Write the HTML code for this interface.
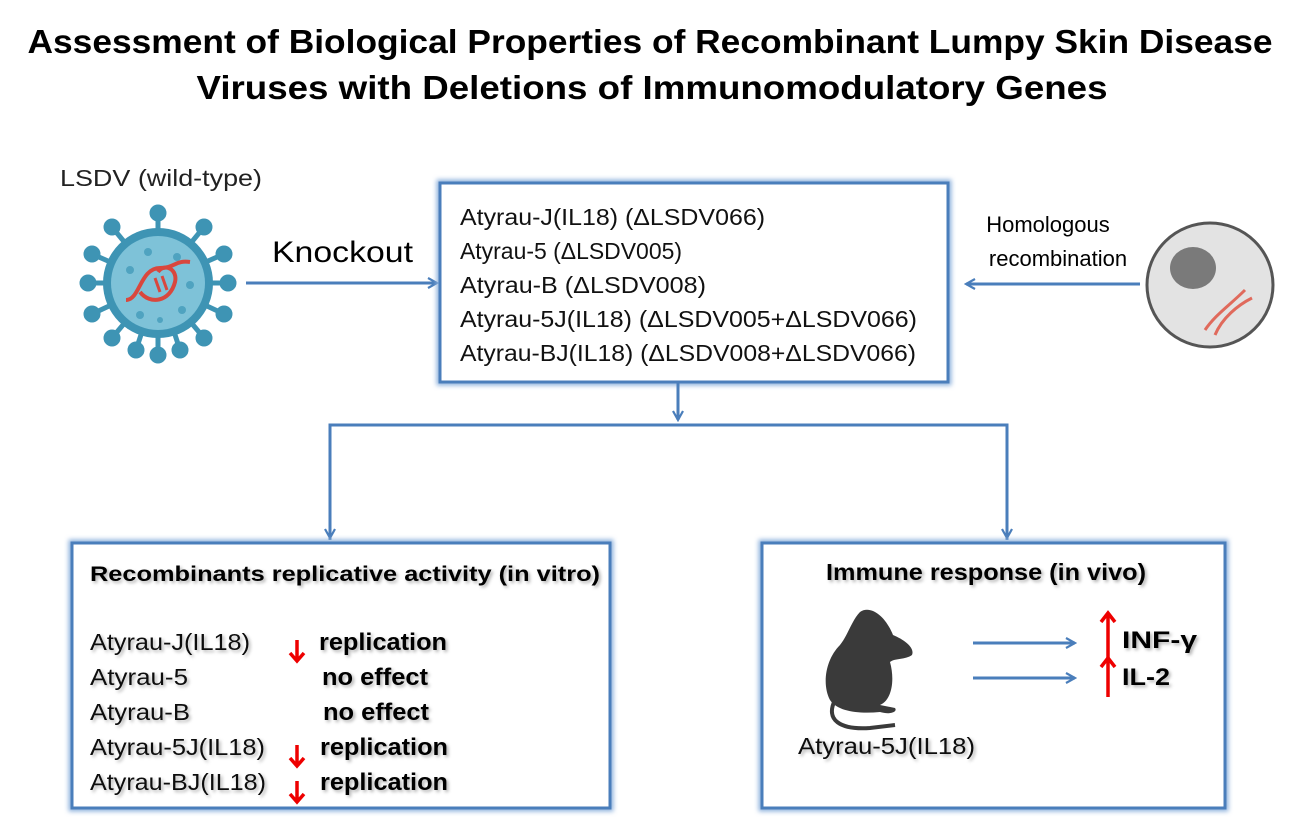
<!DOCTYPE html>
<html><head><meta charset="utf-8"><style>
html,body{margin:0;padding:0;background:#fff;}
svg{display:block;font-family:"Liberation Sans",sans-serif;}
</style></head><body>
<svg width="1307" height="836" viewBox="0 0 1307 836" xmlns="http://www.w3.org/2000/svg">
<defs>
<filter id="glow" x="-10%" y="-10%" width="120%" height="120%"><feGaussianBlur stdDeviation="2.5"/></filter>
<filter id="sh" x="-10%" y="-30%" width="120%" height="160%"><feDropShadow dx="2" dy="2" stdDeviation="1.5" flood-color="#000" flood-opacity="0.3"/></filter>
<marker id="ab" viewBox="0 0 12 12" refX="10" refY="6" markerWidth="12" markerHeight="12" markerUnits="userSpaceOnUse" orient="auto"><path d="M1,1 L10,6 L1,11" fill="none" stroke="#4a7ebb" stroke-width="2.2"/></marker>
</defs>
<text x="650" y="53" text-anchor="middle" font-size="33" font-weight="bold" textLength="1245" lengthAdjust="spacingAndGlyphs">Assessment of Biological Properties of Recombinant Lumpy Skin Disease</text>
<text x="652" y="99" text-anchor="middle" font-size="33" font-weight="bold" textLength="911" lengthAdjust="spacingAndGlyphs">Viruses with Deletions of Immunomodulatory Genes</text>

<text x="60" y="186" font-size="23" fill="#222" textLength="202" lengthAdjust="spacingAndGlyphs">LSDV (wild-type)</text>
<!-- virus -->
<g stroke="#3e94b4" stroke-width="5" fill="#3e94b4">
<line x1="158" y1="283" x2="158" y2="213"/><circle cx="158" cy="213" r="6"/>
<line x1="158" y1="283" x2="158" y2="355"/><circle cx="158" cy="355" r="6"/>
<line x1="158" y1="283" x2="88" y2="283"/><circle cx="88" cy="283" r="6"/>
<line x1="158" y1="283" x2="228" y2="283"/><circle cx="228" cy="283" r="6"/>
<line x1="158" y1="283" x2="112" y2="227"/><circle cx="112" cy="227" r="6"/>
<line x1="158" y1="283" x2="204" y2="227"/><circle cx="204" cy="227" r="6"/>
<line x1="158" y1="283" x2="112" y2="338"/><circle cx="112" cy="338" r="6"/>
<line x1="158" y1="283" x2="204" y2="338"/><circle cx="204" cy="338" r="6"/>
<line x1="158" y1="283" x2="92" y2="254"/><circle cx="92" cy="254" r="6"/>
<line x1="158" y1="283" x2="224" y2="254"/><circle cx="224" cy="254" r="6"/>
<line x1="158" y1="283" x2="92" y2="314"/><circle cx="92" cy="314" r="6"/>
<line x1="158" y1="283" x2="224" y2="314"/><circle cx="224" cy="314" r="6"/>
<line x1="158" y1="283" x2="136" y2="350"/><circle cx="136" cy="350" r="6"/>
<line x1="158" y1="283" x2="180" y2="350"/><circle cx="180" cy="350" r="6"/>
</g>
<circle cx="158" cy="283" r="55" fill="#3e94b4"/>
<circle cx="158" cy="283" r="47" fill="#7ec2d8"/>
<g fill="#4fa3c0"><circle cx="148" cy="252" r="4"/><circle cx="177" cy="257" r="4"/><circle cx="130" cy="270" r="4"/><circle cx="190" cy="285" r="4"/><circle cx="140" cy="315" r="4"/><circle cx="182" cy="310" r="4"/><circle cx="160" cy="320" r="3"/></g>
<path d="M126,300 C140,300 140,268 160,268 C175,268 175,260 190,262" fill="none" stroke="#d9473d" stroke-width="4"/>
<path d="M140,292 C150,305 170,302 175,282 C178,270 165,262 158,272" fill="none" stroke="#d9473d" stroke-width="4"/>
<line x1="155" y1="278" x2="160" y2="292" stroke="#d9473d" stroke-width="3"/><line x1="162" y1="276" x2="167" y2="290" stroke="#d9473d" stroke-width="3"/>

<!-- knockout -->
<text x="272" y="262" font-size="30" textLength="141" lengthAdjust="spacingAndGlyphs">Knockout</text>
<line x1="246" y1="283" x2="437" y2="283" stroke="#4a7ebb" stroke-width="3" marker-end="url(#ab)"/>

<!-- top box -->
<rect x="440" y="183" width="508" height="199" fill="none" stroke="#8fb2dd" stroke-width="7" filter="url(#glow)"/>
<rect x="440" y="183" width="508" height="199" fill="#fff" stroke="#4a7ebb" stroke-width="3"/>
<g font-size="23" fill="#111" lengthAdjust="spacingAndGlyphs">
<text x="460" y="225" textLength="305" lengthAdjust="spacingAndGlyphs">Atyrau-J(IL18) (ΔLSDV066)</text>
<text x="460" y="259" textLength="222" lengthAdjust="spacingAndGlyphs">Atyrau-5 (ΔLSDV005)</text>
<text x="460" y="293" textLength="246" lengthAdjust="spacingAndGlyphs">Atyrau-B (ΔLSDV008)</text>
<text x="460" y="327" textLength="457" lengthAdjust="spacingAndGlyphs">Atyrau-5J(IL18) (ΔLSDV005+ΔLSDV066)</text>
<text x="460" y="361" textLength="456" lengthAdjust="spacingAndGlyphs">Atyrau-BJ(IL18) (ΔLSDV008+ΔLSDV066)</text>
</g>

<!-- homologous -->
<text x="1048" y="232" font-size="22" text-anchor="middle">Homologous</text>
<text x="1058" y="266" font-size="22" text-anchor="middle">recombination</text>
<line x1="1140" y1="284" x2="966" y2="284" stroke="#4a7ebb" stroke-width="3" marker-end="url(#ab)"/>
<ellipse cx="1210" cy="285" rx="63" ry="62" fill="#e3e3e3" stroke="#555" stroke-width="3"/>
<ellipse cx="1193" cy="268" rx="23" ry="21" fill="#7a7a7a"/>
<path d="M1205,330 C1215,315 1230,305 1245,290 M1215,335 C1222,318 1238,305 1252,298" fill="none" stroke="#e06a5c" stroke-width="3"/>

<!-- connectors -->
<line x1="678" y1="382" x2="678" y2="420" stroke="#4a7ebb" stroke-width="3" marker-end="url(#ab)"/>
<polyline points="330,540 330,425 1007,425 1007,540" fill="none" stroke="#4a7ebb" stroke-width="3"/>
<line x1="330" y1="520" x2="330" y2="538" stroke="#4a7ebb" stroke-width="3" marker-end="url(#ab)"/>
<line x1="1007" y1="520" x2="1007" y2="538" stroke="#4a7ebb" stroke-width="3" marker-end="url(#ab)"/>

<!-- left box -->
<rect x="72" y="543" width="538" height="265" fill="none" stroke="#8fb2dd" stroke-width="7" filter="url(#glow)"/>
<rect x="72" y="543" width="538" height="265" fill="#fff" stroke="#4a7ebb" stroke-width="3"/>
<text x="90" y="581" font-size="21" font-weight="bold" filter="url(#sh)" textLength="510" lengthAdjust="spacingAndGlyphs">Recombinants replicative activity (in vitro)</text>
<g font-size="23" fill="#111" filter="url(#sh)">
<text x="90" y="650" textLength="160" lengthAdjust="spacingAndGlyphs">Atyrau-J(IL18)</text>
<text x="90" y="685" textLength="98" lengthAdjust="spacingAndGlyphs">Atyrau-5</text>
<text x="90" y="720" textLength="100" lengthAdjust="spacingAndGlyphs">Atyrau-B</text>
<text x="90" y="755" textLength="175" lengthAdjust="spacingAndGlyphs">Atyrau-5J(IL18)</text>
<text x="90" y="790" textLength="176" lengthAdjust="spacingAndGlyphs">Atyrau-BJ(IL18)</text>
</g>
<g font-size="24" font-weight="bold" filter="url(#sh)">
<text x="319" y="650" textLength="128" lengthAdjust="spacingAndGlyphs">replication</text>
<text x="322" y="685" textLength="106" lengthAdjust="spacingAndGlyphs">no effect</text>
<text x="323" y="720" textLength="106" lengthAdjust="spacingAndGlyphs">no effect</text>
<text x="320" y="755" textLength="128" lengthAdjust="spacingAndGlyphs">replication</text>
<text x="320" y="790" textLength="128" lengthAdjust="spacingAndGlyphs">replication</text>
</g>
<g stroke="#e00" stroke-width="3.5" fill="none">
<path d="M297,640 V660 M290,653 L297,661 L304,653"/>
<path d="M297,745 V765 M290,758 L297,766 L304,758"/>
<path d="M297,781 V801 M290,794 L297,802 L304,794"/>
</g>

<!-- right box -->
<rect x="762" y="543" width="463" height="265" fill="none" stroke="#8fb2dd" stroke-width="7" filter="url(#glow)"/>
<rect x="762" y="543" width="463" height="265" fill="#fff" stroke="#4a7ebb" stroke-width="3"/>
<text x="826" y="580" font-size="23" font-weight="bold" filter="url(#sh)" textLength="320" lengthAdjust="spacingAndGlyphs">Immune response (in vivo)</text>
<!-- mouse -->
<g fill="#3a3a3a">
<path d="M860,612 C870,605 885,615 893,635 C905,640 915,648 912,655 C905,660 895,658 890,662 C895,680 892,700 880,705 L895,708 C898,712 890,715 880,712 C860,714 838,712 830,700 C822,685 825,660 840,645 C848,635 852,620 860,612 Z"/>
<path d="M835,700 C825,720 840,730 870,728 L895,725" fill="none" stroke="#3a3a3a" stroke-width="4"/>
</g>
<text x="798" y="754" font-size="23" fill="#111" filter="url(#sh)" textLength="177" lengthAdjust="spacingAndGlyphs">Atyrau-5J(IL18)</text>
<line x1="973" y1="643" x2="1075" y2="643" stroke="#4a7ebb" stroke-width="3" marker-end="url(#ab)"/>
<line x1="973" y1="678" x2="1075" y2="678" stroke="#4a7ebb" stroke-width="3" marker-end="url(#ab)"/>
<g stroke="#e00" stroke-width="3.5" fill="none">
<path d="M1108,660 V613 M1101,622 L1108,613 L1115,622"/>
<path d="M1108,697 V658 M1101,667 L1108,658 L1115,667"/>
</g>
<g font-size="24" font-weight="bold" filter="url(#sh)">
<text x="1122" y="648" textLength="75" lengthAdjust="spacingAndGlyphs">INF-γ</text>
<text x="1122" y="685" textLength="48" lengthAdjust="spacingAndGlyphs">IL-2</text>
</g>
</svg>
</body></html>
